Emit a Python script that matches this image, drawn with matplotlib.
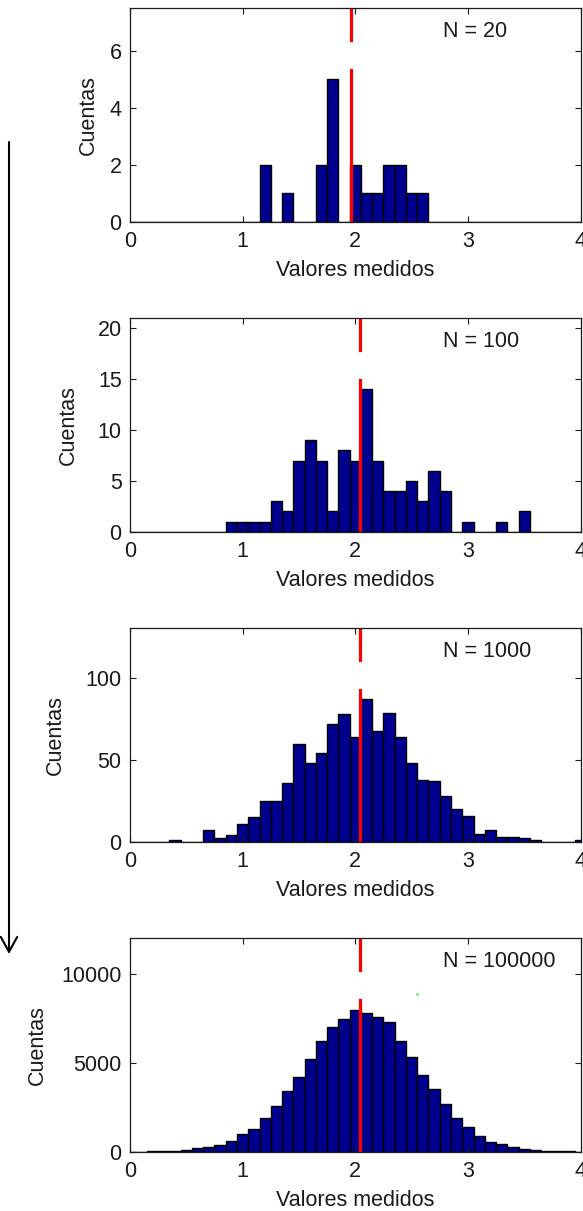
import numpy as np
import matplotlib
matplotlib.use("Agg")
import matplotlib.pyplot as plt
from matplotlib.patches import FancyArrowPatch

plt.rcParams['font.family'] = ['Liberation Sans', 'DejaVu Sans']

# bin centres shared by the four histograms (0.0 ... 4.0)
bin_centers = [round(0.1 * k, 1) for k in range(41)]

# counts per bin
counts_20 = [0, 0, 0, 0, 0, 0, 0, 0, 0, 0,
             0, 0, 2, 0, 1, 0, 0, 2, 5, 0,
             2, 1, 1, 2, 2, 1, 1, 0, 0, 0,
             0, 0, 0, 0, 0, 0, 0, 0, 0, 0, 0]
counts_100 = [0, 0, 0, 0, 0, 0, 0, 0, 0, 1,
              1, 1, 1, 3, 2, 7, 9, 7, 2, 8,
              7, 14, 7, 4, 4, 5, 3, 6, 4, 0,
              1, 0, 0, 1, 0, 2, 0, 0, 0, 0, 0]
counts_1000 = [0, 0, 0, 0, 1, 0, 0, 7, 2, 4,
               11, 15, 25, 25, 36, 60, 48, 54, 72, 78,
               64, 87, 68, 79, 64, 48, 38, 37, 28, 20,
               16, 5, 7, 3, 3, 2, 1, 0, 0, 0, 1]
counts_100000 = [4, 8, 15, 25, 40, 80, 190, 290, 400, 590,
                 970, 1260, 1880, 2560, 3420, 4220, 5230, 6200, 6990, 7490,
                 7980, 7780, 7590, 7310, 6210, 5310, 4340, 3540, 2660, 1880,
                 1390, 880, 570, 410, 270, 170, 80, 40, 25, 12, 8]

sample_sizes = ["N = 20", "N = 100", "N = 1000", "N = 100000"]
means = [1.96, 2.04, 2.04, 2.04]
y_max = [7.5, 21, 130.5, 12000]
y_ticks = [[0, 2, 4, 6], [0, 5, 10, 15, 20], [0, 50, 100], [0, 5000, 10000]]
x_ticks = [0, 1, 2, 3, 4]
ylabel_x = [-0.070, -0.114, -0.142, -0.183]

all_counts = [counts_20, counts_100, counts_1000, counts_100000]

W, H = 583, 1211
fig = plt.figure(figsize=(W / 100, H / 100), dpi=100)
fs = 15.5

for i in range(4):
    top = 8.3 + 310 * i
    ax = fig.add_axes([130 / W, 1 - (top + 213.4) / H, 450.5 / W, 213.4 / H])
    ax.bar(bin_centers, all_counts[i], width=0.1, color='#00008f',
           edgecolor='black', linewidth=1.0)
    # red line for the mean, with the small break seen in the original
    ax.axvline(means[i], ymin=0, ymax=0.71, color='red', lw=2.3)
    ax.axvline(means[i], ymin=0.85, ymax=1, color='red', lw=2.3)
    ax.text(0.695, 0.866, sample_sizes[i], transform=ax.transAxes,
            fontsize=fs, ha='left', va='baseline', color='#1a1a1a')

    ax.set_xlim(0, 4)
    ax.set_ylim(0, y_max[i])
    ax.set_xticks(x_ticks)
    ax.set_yticks(y_ticks[i])
    ax.tick_params(direction='in', top=True, right=True, length=4, width=0.8,
                   labelsize=fs, colors='#1a1a1a')
    ax.tick_params(axis='x', pad=7)
    ax.tick_params(axis='y', pad=6)
    for s in ax.spines.values():
        s.set_color('#1a1a1a')
        s.set_linewidth(0.9)

    ax.set_xlabel("Valores medidos", fontsize=fs, color='#1a1a1a')
    ax.xaxis.set_label_coords(0.5, -0.18)
    ax.set_ylabel("Cuentas", fontsize=fs, color='#1a1a1a')
    ax.yaxis.set_label_coords(ylabel_x[i], 0.5)

    if i == 3:
        # stray green pixel in the original picture
        ax.plot([2.548], [8841], marker='s', ms=1.4, mew=0, color='#00ee00')

arrow = FancyArrowPatch((9 / W, 1 - 142 / H), (9 / W, 1 - 954 / H),
                        transform=fig.transFigure,
                        arrowstyle='->,head_length=0.4,head_width=0.22',
                        mutation_scale=27, lw=1.5, color='black',
                        shrinkA=0, shrinkB=0)
fig.add_artist(arrow)

fig.savefig("out.png", dpi=100)
